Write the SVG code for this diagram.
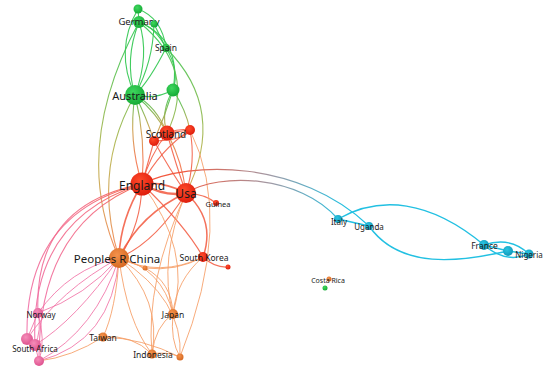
<svg xmlns="http://www.w3.org/2000/svg" width="550" height="374" viewBox="0 0 550 374">
<defs>
<radialGradient id="fg" cx="0.4" cy="0.35" r="0.7"><stop offset="0" stop-color="#3fd75e"/><stop offset="1" stop-color="#12a833"/></radialGradient>
<radialGradient id="fr" cx="0.4" cy="0.35" r="0.7"><stop offset="0" stop-color="#ff4a2a"/><stop offset="1" stop-color="#dc1a0a"/></radialGradient>
<radialGradient id="fo" cx="0.4" cy="0.35" r="0.7"><stop offset="0" stop-color="#f4924c"/><stop offset="1" stop-color="#d4661f"/></radialGradient>
<radialGradient id="fp" cx="0.4" cy="0.35" r="0.7"><stop offset="0" stop-color="#f58cb8"/><stop offset="1" stop-color="#dc4e8c"/></radialGradient>
<radialGradient id="fc" cx="0.4" cy="0.35" r="0.7"><stop offset="0" stop-color="#2bc4e2"/><stop offset="1" stop-color="#0e96b6"/></radialGradient>
<linearGradient id="gGO" gradientUnits="userSpaceOnUse" x1="0" y1="95" x2="0" y2="160"><stop offset="0" stop-color="#36c650"/><stop offset="0.5" stop-color="#c8a048"/><stop offset="1" stop-color="#f2744a"/></linearGradient>
<linearGradient id="gGL" gradientUnits="userSpaceOnUse" x1="0" y1="40" x2="0" y2="250"><stop offset="0" stop-color="#36c650"/><stop offset="0.55" stop-color="#b8b048"/><stop offset="1" stop-color="#f2844e"/></linearGradient>
<linearGradient id="gRP" gradientUnits="userSpaceOnUse" x1="140" y1="185" x2="40" y2="320"><stop offset="0" stop-color="#f2583e"/><stop offset="0.3" stop-color="#f36a82"/><stop offset="1" stop-color="#f06ea6"/></linearGradient>
<linearGradient id="gRC" gradientUnits="userSpaceOnUse" x1="180" y1="0" x2="345" y2="0"><stop offset="0" stop-color="#f2583e"/><stop offset="0.55" stop-color="#a09aa6"/><stop offset="1" stop-color="#22bfe0"/></linearGradient>
</defs>
<style>
.e{fill:none;stroke-linecap:round}
.eg{stroke:#2ec64e;stroke-width:1.1;opacity:.9}
.ego{stroke:url(#gGO);stroke-width:1.1;opacity:.9}
.egl{stroke:url(#gGL);stroke-width:1.1;opacity:.9}
.er{stroke:#f2583e;stroke-width:1.1;opacity:.85}
.eo{stroke:#f69c64;stroke-width:1;opacity:.85}
.ep{stroke:#f172a6;stroke-width:1;opacity:.85}
.erp{stroke:url(#gRP);stroke-width:1.1;opacity:.9}
.erc{stroke:url(#gRC);stroke-width:1.2}
.ec{stroke:#22c0e2;stroke-width:1.4}
.ng{fill:url(#fg)}.nr{fill:url(#fr)}.no{fill:url(#fo)}.np{fill:url(#fp)}.nc{fill:url(#fc)}
text{font-family:"Noto Sans","Open Sans","DejaVu Sans",sans-serif;fill:#1a1a1a;text-anchor:middle}
</style>
<rect width="550" height="374" fill="#ffffff"/>
<g id="connectors">
<path class="e eg" d="M138,9 L139,22"/>
<path class="e eg" d="M138,9 Q114,50 135,95"/>
<path class="e eg" d="M139,22 Q124,60 135,95"/>
<path class="e eg" d="M139,22 Q150,55 135,95"/>
<path class="e eg" d="M154,24 Q153,62 135,95"/>
<path class="e eg" d="M138,9 Q162,18 166,48"/>
<path class="e eg" d="M139,22 Q156,28 166,48"/>
<path class="e eg" d="M154,24 L166,48"/>
<path class="e eg" d="M139,22 Q182,40 173,90"/>
<path class="e eg" d="M166,48 Q180,70 173,90"/>
<path class="e eg" d="M166,48 Q150,80 135,95"/>
<path class="e eg" d="M135,95 Q155,100 173,90"/>
<path class="e ego" d="M173,90 Q160,112 167,133"/>
<path class="e ego" d="M173,90 Q186,110 190,130"/>
<path class="e ego" d="M173,90 Q165,116 154,141"/>
<path class="e egl" d="M166,48 Q228,110 186,193"/>
<path class="e egl" d="M139,22 Q198,70 167,133"/>
<path class="e ego" d="M135,95 Q128,140 142,184"/>
<path class="e ego" d="M135,95 Q146,140 142,184"/>
<path class="e ego" d="M135,95 Q156,106 167,133"/>
<path class="e ego" d="M135,95 Q146,116 154,141"/>
<path class="e ego" d="M135,95 Q178,130 186,193"/>
<path class="e egl" d="M139,22 Q70,150 119,258"/>
<path class="e egl" d="M135,95 Q92,170 119,258"/>
<path class="e er" d="M142,184 Q165,197 186,193" style="stroke-width:2.4"/>
<path class="e er" d="M142,184 Q163,181 186,193" style="stroke-width:1.6"/>
<path class="e er" d="M167,133 L190,130"/>
<path class="e er" d="M167,133 L154,141"/>
<path class="e er" d="M154,141 Q172,127 190,130"/>
<path class="e er" d="M167,133 Q150,155 142,184"/>
<path class="e er" d="M167,133 Q176,165 186,193"/>
<path class="e er" d="M190,130 Q196,162 186,193"/>
<path class="e er" d="M190,130 Q160,150 142,184"/>
<path class="e er" d="M154,141 L142,184"/>
<path class="e er" d="M154,141 Q170,170 186,193"/>
<path class="e er" d="M154,141 Q185,140 190,130"/>
<path class="e er" d="M186,193 Q205,194 216,203"/>
<path class="e er" d="M186,193 Q216,220 203,257" style="stroke-width:1.5"/>
<path class="e er" d="M142,184 Q185,225 203,257"/>
<path class="e er" d="M203,257 Q215,268 228,267"/>
<path class="e er" d="M142,184 Q120,220 119,258" style="stroke-width:1.6"/>
<path class="e er" d="M142,184 Q141,226 119,258"/>
<path class="e er" d="M186,193 Q140,214 119,258" style="stroke-width:1.6"/>
<path class="e er" d="M186,193 Q156,242 119,258"/>
<path class="e eo" d="M186,193 Q158,260 173,314"/>
<path class="e eo" d="M142,184 Q192,250 173,314"/>
<path class="e eo" d="M186,193 Q145,282 152,354"/>
<path class="e eo" d="M190,130 Q235,220 180,357"/>
<path class="e erc" d="M142,184 C190,160 300,160 369,226"/>
<path class="e erc" d="M186,193 C220,172 300,175 338,219"/>
<path class="e erp" d="M142,184 Q33,205 38,313"/>
<path class="e erp" d="M142,184 Q24,212 27,339"/>
<path class="e erp" d="M142,184 Q29,219 35,345"/>
<path class="e erp" d="M142,184 Q38,224 39,361"/>
<path class="e ep" d="M119,258 Q70,268 38,313"/>
<path class="e ep" d="M119,258 Q86,296 38,313"/>
<path class="e ep" d="M119,258 Q60,290 27,339"/>
<path class="e ep" d="M119,258 Q76,320 35,345"/>
<path class="e ep" d="M119,258 Q96,330 39,361"/>
<path class="e ep" d="M119,258 Q112,342 39,361"/>
<path class="e ep" d="M38,313 L27,339"/>
<path class="e ep" d="M38,313 Q42,330 35,345"/>
<path class="e ep" d="M38,313 Q46,340 39,361"/>
<path class="e ep" d="M27,339 L35,345"/>
<path class="e ep" d="M35,345 L39,361"/>
<path class="e eo" d="M103,337 Q72,357 39,361"/>
<path class="e eo" d="M119,258 L145,268"/>
<path class="e eo" d="M119,258 Q160,278 203,257"/>
<path class="e eo" d="M145,268 Q176,272 203,257"/>
<path class="e eo" d="M119,258 Q116,310 103,337"/>
<path class="e eo" d="M119,258 Q162,300 152,354"/>
<path class="e eo" d="M119,258 Q127,322 152,354"/>
<path class="e eo" d="M119,258 Q162,268 173,314"/>
<path class="e eo" d="M119,258 Q184,300 180,357"/>
<path class="e eo" d="M145,268 Q172,282 173,314"/>
<path class="e eo" d="M173,314 Q155,326 152,354"/>
<path class="e eo" d="M173,314 Q170,340 180,357"/>
<path class="e eo" d="M152,354 Q166,351 180,357"/>
<path class="e eo" d="M103,337 Q132,334 152,354"/>
<path class="e eo" d="M103,337 Q142,338 180,357"/>
<path class="e eo" d="M203,257 Q176,280 173,314"/>
<path class="e ec" d="M338,219 L369,226"/>
<path class="e ec" d="M338,219 C380,195 430,200 484,245"/>
<path class="e ec" d="M369,226 C400,270 460,262 508,251"/>
<path class="e ec" d="M484,245 Q510,236 529,254"/>
<path class="e ec" d="M484,245 Q506,264 529,254"/>
<path class="e ec" d="M484,245 L508,251"/>
<path class="e ec" d="M508,251 L529,254"/>
</g>
<g id="n-top"><circle class="ng" cx="138" cy="9" r="4.5"/></g>
<g id="n-germany"><circle class="ng" cx="139" cy="22" r="6"/><text x="139" y="25.3" font-size="9.5">Germany</text></g>
<g id="n-green2"><circle class="ng" cx="154" cy="24" r="3.5"/></g>
<g id="n-spain"><circle class="ng" cx="166" cy="48" r="4"/><text x="166" y="51" font-size="8.5">Spain</text></g>
<g id="n-australia"><circle class="ng" cx="135" cy="95" r="10"/><text x="135" y="99.5" font-size="11">Australia</text></g>
<g id="n-green3"><circle class="ng" cx="173" cy="90" r="6.5"/></g>
<g id="n-scotland-r"><circle class="nr" cx="190" cy="130" r="5"/></g>
<g id="n-scotland-l"><circle class="nr" cx="154" cy="141" r="5"/></g>
<g id="n-scotland"><circle class="nr" cx="167" cy="133" r="7.5"/><text x="166" y="138" font-size="10">Scotland</text></g>
<g id="n-england"><circle class="nr" cx="142" cy="184" r="11.5"/><text x="142" y="190" font-size="12">England</text></g>
<g id="n-usa"><circle class="nr" cx="186" cy="193" r="10"/><text x="186" y="197.5" font-size="12">Usa</text></g>
<g id="n-guinea"><circle class="nr" cx="216" cy="203" r="3"/><text x="218" y="206.5" font-size="7.5">Guinea</text></g>
<g id="n-southkorea"><circle class="nr" cx="203" cy="257" r="5"/><text x="204" y="261" font-size="8.5">South Korea</text></g>
<g id="n-red-small"><circle class="nr" cx="228" cy="267" r="2.5"/></g>
<g id="n-orange-small"><circle class="no" cx="145" cy="268" r="2.5"/></g>
<g id="n-china"><circle class="no" cx="119" cy="258" r="10"/><text x="117" y="263" font-size="11.5">Peoples R China</text></g>
<g id="n-norway"><circle class="np" cx="38" cy="313" r="5"/><text x="41" y="318" font-size="8">Norway</text></g>
<g id="n-sa1"><circle class="np" cx="27" cy="339" r="6"/></g>
<g id="n-sa3"><circle class="np" cx="39" cy="361" r="5"/></g>
<g id="n-southafrica"><circle class="np" cx="35" cy="345" r="6"/><text x="35" y="352" font-size="8">South Africa</text></g>
<g id="n-taiwan"><circle class="no" cx="103" cy="337" r="4.5"/><text x="103" y="341" font-size="8.5">Taiwan</text></g>
<g id="n-japan"><circle class="no" cx="173" cy="314" r="5"/><text x="173" y="318" font-size="8.5">Japan</text></g>
<g id="n-indonesia"><circle class="no" cx="152" cy="354" r="4.5"/><text x="153" y="358" font-size="8.5">Indonesia</text></g>
<g id="n-orange2"><circle class="no" cx="180" cy="357" r="3.5"/></g>
<g id="n-italy"><circle class="nc" cx="338" cy="219" r="4"/><text x="339" y="225" font-size="8">Italy</text></g>
<g id="n-uganda"><circle class="nc" cx="369" cy="226" r="4"/><text x="369" y="230" font-size="8">Uganda</text></g>
<g id="n-france"><circle class="nc" cx="484" cy="245" r="5"/><text x="484.5" y="249" font-size="8.5">France</text></g>
<g id="n-cyan2"><circle class="nc" cx="508" cy="251" r="5"/></g>
<g id="n-nigeria"><circle class="nc" cx="529" cy="254" r="4.5"/><text x="529" y="258" font-size="8">Nigeria</text></g>
<g id="n-costarica"><circle class="no" cx="329" cy="279" r="2.5"/><text x="328" y="283" font-size="7">Costa Rica</text></g>
<g id="n-green-small"><circle class="ng" cx="325" cy="288" r="2.5"/></g>
</svg>
